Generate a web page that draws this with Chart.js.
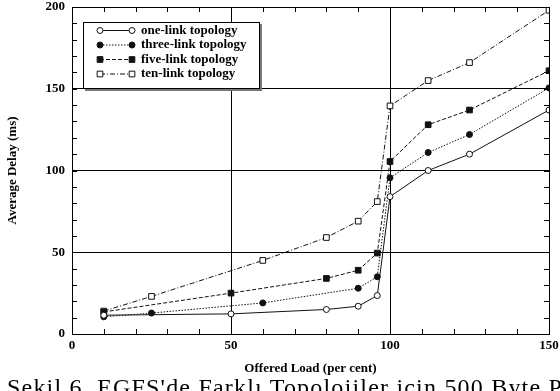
<!DOCTYPE html>
<html>
<head>
<meta charset="utf-8">
<script src="https://cdn.jsdelivr.net/npm/chart.js@4.4.0/dist/chart.umd.min.js"></script>
<style>
  html, body { margin: 0; padding: 0; background: #fff; }
  #wrap { position: relative; width: 560px; height: 391px; overflow: hidden; }
  #caption {
    position: absolute; left: 7px; top: 375px;
    font: 24px 'Liberation Serif', serif; line-height: 24px;
    letter-spacing: 1.2px; white-space: nowrap; color: #000;
  }
</style>
</head>
<body>
<div id="wrap">
  <canvas id="chart" width="560" height="391"></canvas>
  <div id="caption">Şekil 6. EGFS'de Farklı Topolojiler için 500 Byte P</div>
</div>
<script>
// offered load (per cent) and average delay (ms)
const loadOne   = [10, 50, 80, 90, 96, 100, 112, 125, 150];
const delayOne  = [11.5, 12.3, 15, 17, 23.5, 84, 100, 110, 137];

const loadThree  = [10, 25, 60, 90, 96, 100, 112, 125, 150];
const delayThree = [10.5, 12.8, 19, 28, 35, 95.5, 111, 122, 150.5];

const loadFive  = [10, 50, 80, 90, 96, 100, 112, 125, 150];
const delayFive = [13.5, 25, 34, 39, 49.5, 105.5, 128, 137, 161];

const loadTen  = [10, 25, 60, 80, 90, 96, 100, 112, 125, 150];
const delayTen = [14, 23, 45, 59, 69, 81, 139.5, 155, 166, 198];

const seriesNames = ['one-link topology', 'three-link topology', 'five-link topology', 'ten-link topology'];

const xMax = 150, yMax = 200;
const labelEvery = 50, tickEvery = 10;

const FONT = "'Liberation Serif', 'Times New Roman', serif";
const INK  = '#111';

function pts(xs, ys) {
  return xs.map((x, i) => ({ x: x, y: ys[i] }));
}

function series(label, xs, ys, style, filled, dash, radius) {
  return {
    label: label,
    data: pts(xs, ys),
    borderColor: INK,
    borderWidth: 1,
    borderDash: dash,
    pointStyle: style,
    pointRadius: radius,
    pointBorderWidth: 1,
    pointBorderColor: INK,
    pointBackgroundColor: filled ? INK : '#fff',
    tension: 0,
    fill: false,
  };
}

// grid only at the labelled values, the frame draws the outer edges
function gridColor(ctx, max) {
  const v = ctx.tick ? ctx.tick.value : -1;
  if (v > 0 && v < max && v % labelEvery === 0) return '#000';
  return 'rgba(0,0,0,0)';
}

const tickFont = { family: FONT, size: 13, weight: 'bold' };

// box around the plot with short inward ticks on all four sides
const framePlugin = {
  id: 'frame',
  afterDatasetsDraw(chart) {
    const { ctx, chartArea: a, scales } = chart;
    const len = 5;
    ctx.save();
    ctx.strokeStyle = '#000';
    ctx.lineWidth = 1;
    ctx.setLineDash([]);
    ctx.strokeRect(Math.round(a.left) + 0.5, Math.round(a.top) + 0.5,
                   Math.round(a.right - a.left), Math.round(a.bottom - a.top));
    ctx.beginPath();
    for (let v = tickEvery; v < xMax; v += tickEvery) {
      const x = Math.round(scales.x.getPixelForValue(v)) + 0.5;
      ctx.moveTo(x, a.bottom); ctx.lineTo(x, a.bottom - len);
      ctx.moveTo(x, a.top);    ctx.lineTo(x, a.top + len);
    }
    for (let v = tickEvery; v < yMax; v += tickEvery) {
      const y = Math.round(scales.y.getPixelForValue(v)) + 0.5;
      ctx.moveTo(a.left, y);  ctx.lineTo(a.left + len, y);
      ctx.moveTo(a.right, y); ctx.lineTo(a.right - len, y);
    }
    ctx.stroke();
    ctx.restore();
  }
};

// boxed legend with a drop shadow, line sample with a marker at each end
const legendPlugin = {
  id: 'boxLegend',
  afterDraw(chart) {
    const ctx = chart.ctx;
    const bx = 83, by = 22, bw = 176, bh = 66;
    ctx.save();
    ctx.fillStyle = '#777';
    ctx.fillRect(bx + 2, by + 2, bw + 1, bh + 1);
    ctx.fillStyle = '#fff';
    ctx.fillRect(bx, by, bw, bh);
    ctx.strokeStyle = '#000';
    ctx.lineWidth = 1;
    ctx.strokeRect(bx + 0.5, by + 0.5, bw, bh);

    chart.data.datasets.forEach((ds, i) => {
      const y = 30.5 + i * 14.5;
      ctx.strokeStyle = INK;
      ctx.lineWidth = 1;
      ctx.setLineDash(ds.borderDash || []);
      ctx.beginPath();
      ctx.moveTo(100, y);
      ctx.lineTo(132, y);
      ctx.stroke();
      ctx.setLineDash([]);
      ctx.fillStyle = ds.pointBackgroundColor;
      ctx.strokeStyle = ds.pointBorderColor;
      [100, 132].forEach(px => {
        Chart.helpers.drawPoint(ctx, {
          pointStyle: ds.pointStyle, radius: ds.pointRadius, borderWidth: 1, rotation: 0
        }, px, y);
      });
      ctx.fillStyle = '#000';
      ctx.font = 'bold 13px ' + FONT;
      ctx.textBaseline = 'middle';
      ctx.textAlign = 'left';
      ctx.fillText(ds.label, 141, y);
    });
    ctx.restore();
  }
};

new Chart(document.getElementById('chart'), {
  type: 'line',
  data: {
    datasets: [
      series(seriesNames[0], loadOne,   delayOne,   'circle', false, [],           3),
      series(seriesNames[1], loadThree, delayThree, 'circle', true,  [1.5, 1.5],   3),
      series(seriesNames[2], loadFive,  delayFive,  'rect',   true,  [4, 2],       4),
      series(seriesNames[3], loadTen,   delayTen,   'rect',   false, [5, 2, 1, 2], 4),
    ]
  },
  options: {
    responsive: false,
    animation: false,
    layout: { padding: { top: 7, right: 11, bottom: 14, left: 0 } },
    plugins: { legend: { display: false }, tooltip: { enabled: false } },
    scales: {
      x: {
        type: 'linear',
        min: 0, max: xMax,
        ticks: {
          stepSize: tickEvery, autoSkip: false, maxRotation: 0, padding: 4,
          color: '#000', font: tickFont,
          callback: v => (v % labelEvery === 0 ? v : '')
        },
        grid: { drawTicks: false, lineWidth: 1, color: c => gridColor(c, xMax) },
        border: { display: true, color: '#000' },
        title: {
          display: true, text: 'Offered Load (per cent)', color: '#000',
          font: { family: FONT, size: 13, weight: 'bold' },
          padding: { top: 0, bottom: 1 }
        },
        afterFit: s => { s.height = 43; s.paddingLeft = 0; s.paddingRight = 0; }
      },
      y: {
        type: 'linear',
        min: 0, max: yMax,
        ticks: {
          stepSize: tickEvery, autoSkip: false, padding: 7,
          color: '#000', font: tickFont,
          callback: v => (v % labelEvery === 0 ? v : '')
        },
        grid: { drawTicks: false, lineWidth: 1, color: c => gridColor(c, yMax) },
        border: { display: true, color: '#000' },
        title: {
          display: true, text: 'Average Delay (ms)', color: '#000',
          font: { family: FONT, size: 13, weight: 'bold' },
          padding: { top: 5, bottom: 0 }
        },
        afterFit: s => { s.width = 72; s.paddingTop = 0; s.paddingBottom = 0; }
      }
    }
  },
  plugins: [framePlugin, legendPlugin]
});
</script>
</body>
</html>
